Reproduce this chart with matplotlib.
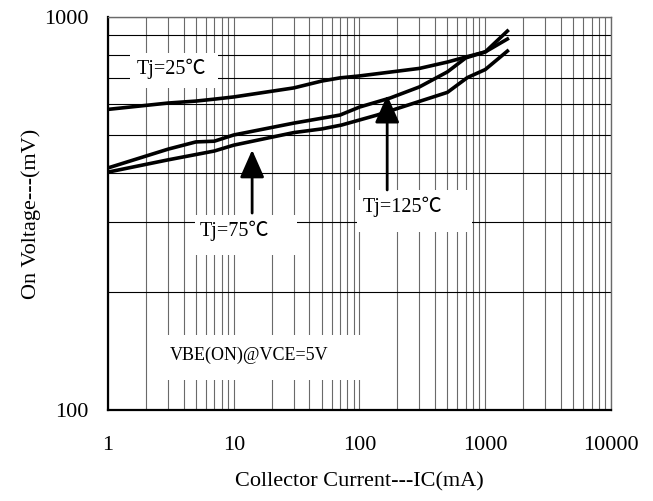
import matplotlib
matplotlib.use("Agg")
import matplotlib.pyplot as plt
from matplotlib.patches import Rectangle
from matplotlib.ticker import FixedLocator, NullFormatter, LogLocator

plt.rcParams['font.family'] = ['Liberation Serif', 'Noto Sans CJK SC', 'DejaVu Serif']

# ---- data ----
ic_25 = [1, 3, 5, 7, 10, 30, 50, 70, 100, 300, 500, 700, 1000, 1500]
vbe_25 = [582, 604, 611, 618, 626, 660, 687, 700, 708, 740, 768, 791, 815, 879]

ic_75 = [1, 3, 5, 7, 10, 30, 70, 100, 175, 300, 500, 700, 1000, 1500]
vbe_75 = [413, 461, 481, 483, 501, 537, 563, 590, 622, 664, 725, 787, 815, 921]

ic_125 = [1, 3, 7, 10, 30, 50, 72, 138, 300, 500, 720, 1000, 1500]
vbe_125 = [403, 433, 456, 472, 508, 519, 531, 563, 610, 643, 701, 735, 819]

x_ticks = [1, 10, 100, 1000, 10000]
x_tick_labels = ["1", "10", "100", "1000", "10000"]
y_ticks = [100, 1000]
y_tick_labels = ["100", "1000"]

labels = ["Tj=25℃", "Tj=75℃", "Tj=125℃", "VBE(ON)@VCE=5V"]

# ---- figure ----
W, H = 653, 501
fig = plt.figure(figsize=(W / 100, H / 100), dpi=100)
ax_l, ax_r, ax_t, ax_b = 108, 611, 17, 410
ax = fig.add_axes([ax_l / W, (H - ax_b) / H, (ax_r - ax_l) / W, (ax_b - ax_t) / H])

ax.set_xscale('log')
ax.set_yscale('log')
ax.set_xlim(1, 10000)
ax.set_ylim(100, 1000)

ax.xaxis.set_major_locator(FixedLocator(x_ticks))
ax.set_xticklabels(x_tick_labels)
ax.yaxis.set_major_locator(FixedLocator(y_ticks))
ax.set_yticklabels(y_tick_labels)
ax.xaxis.set_minor_locator(LogLocator(base=10, subs=range(2, 10)))
ax.yaxis.set_minor_locator(LogLocator(base=10, subs=range(2, 10)))
ax.xaxis.set_minor_formatter(NullFormatter())
ax.yaxis.set_minor_formatter(NullFormatter())

ax.tick_params(which='both', length=0)
ax.tick_params(axis='x', which='major', pad=19, labelsize=16)
ax.tick_params(axis='y', which='major', pad=14, labelsize=16)

ax.set_axisbelow(True)
ax.xaxis.grid(True, which='both', color='#6a6a6a', lw=0.8)
ax.yaxis.grid(True, which='both', color='black', lw=0.8)

for s in ['left', 'bottom']:
    ax.spines[s].set_linewidth(1.6)
    ax.spines[s].set_color('black')
for s in ['top', 'right']:
    ax.spines[s].set_linewidth(1.0)
    ax.spines[s].set_color('#6a6a6a')

ax.set_xlabel("Collector Current---IC(mA)", fontsize=16, labelpad=12)
ax.set_ylabel("On Voltage---(mV)", fontsize=16, labelpad=2)

# white label boxes (axes fraction)
def px_box(x0, y0, x1, y1):
    fx0 = (x0 - ax_l) / (ax_r - ax_l)
    fx1 = (x1 - ax_l) / (ax_r - ax_l)
    fy0 = (ax_b - y1) / (ax_b - ax_t)
    fy1 = (ax_b - y0) / (ax_b - ax_t)
    ax.add_patch(Rectangle((fx0, fy0), fx1 - fx0, fy1 - fy0, transform=ax.transAxes,
                           facecolor='white', edgecolor='none', zorder=1))

def px_text(x, y, s, size):
    fx = (x - ax_l) / (ax_r - ax_l)
    fy = (ax_b - y) / (ax_b - ax_t)
    ax.text(fx, fy, s, transform=ax.transAxes, ha='center', va='center',
            fontsize=size, zorder=4)

px_box(130, 53, 218, 88)
px_box(195, 215, 297, 255)
px_box(357, 190, 472, 232)
px_box(150, 335, 362, 380)

ax.plot(ic_25, vbe_25, color='black', lw=2.6, zorder=3, solid_joinstyle='round')
ax.plot(ic_75, vbe_75, color='black', lw=2.6, zorder=3, solid_joinstyle='round')
ax.plot(ic_125, vbe_125, color='black', lw=2.6, zorder=3, solid_joinstyle='round')

px_text(171, 69, labels[0], 14.5)
px_text(234, 231, labels[1], 14.5)
px_text(403, 207, labels[2], 14.5)
px_text(249, 355, labels[3], 13)

arrow_style = '-|>,head_length=1.7,head_width=0.75'
ax.annotate('', xy=(14.0, 459), xytext=(14.0, 317),
            arrowprops=dict(arrowstyle=arrow_style, mutation_scale=10, color='black',
                            lw=2.0, shrinkA=0, shrinkB=0), zorder=4)
ax.annotate('', xy=(166, 633), xytext=(166, 363),
            arrowprops=dict(arrowstyle=arrow_style, mutation_scale=10, color='black',
                            lw=2.0, shrinkA=0, shrinkB=0), zorder=4)

fig.savefig("out.png", dpi=100)
